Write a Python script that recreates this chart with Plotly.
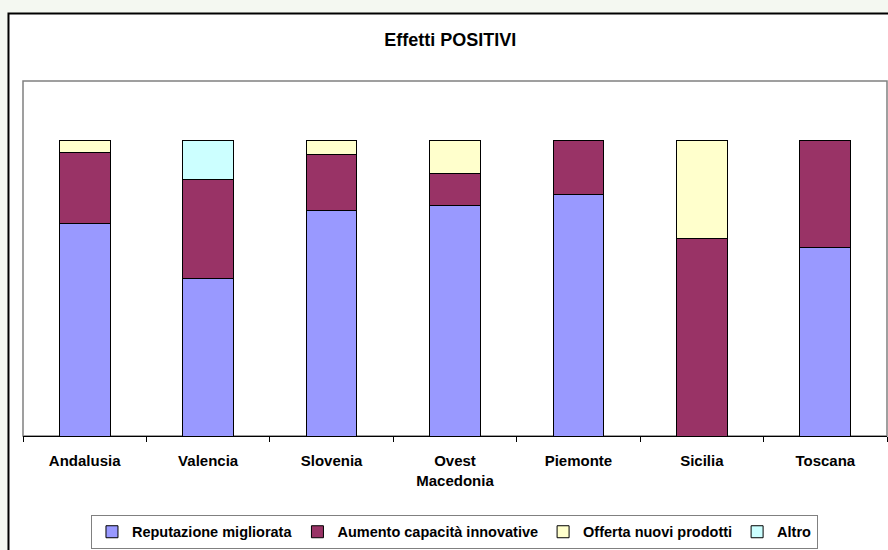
import plotly.graph_objects as go

regions = ['Andalusia', 'Valencia', 'Slovenia', 'Ovest<br>Macedonia',
           'Piemonte', 'Sicilia', 'Toscana']

reputazione = [72.0, 53.3, 76.2, 77.8, 81.8, 0.0, 63.6]
innovative = [24.0, 33.4, 19.0, 11.1, 18.2, 66.7, 36.4]
nuovi_prodotti = [4.0, 0.0, 4.8, 11.1, 0.0, 33.3, 0.0]
altro = [0.0, 13.3, 0.0, 0.0, 0.0, 0.0, 0.0]

series = [
    ('Reputazione migliorata', reputazione, '#9999FF'),
    ('Aumento capacità innovative', innovative, '#993366'),
    ('Offerta nuovi prodotti', nuovi_prodotti, '#FFFFCC'),
    ('Altro', altro, '#CCFFFF'),
]

font_family = 'Liberation Sans, Arial, sans-serif'

fig = go.Figure()
for name, vals, color in series:
    fig.add_trace(go.Bar(x=regions, y=vals, name=name,
                         marker={'color': color, 'line': {'color': 'black', 'width': 1}},
                         width=0.41))

fig.update_layout(
    barmode='stack',
    width=888, height=550,
    margin={'l': 23, 'r': 1, 't': 81, 'b': 110},
    paper_bgcolor='#f4f8f1',
    plot_bgcolor='white',
    title={'text': 'Effetti POSITIVI', 'x': 0.507, 'xanchor': 'center',
           'y': 0.927, 'yanchor': 'middle',
           'font': {'family': font_family, 'size': 18, 'color': 'black', 'weight': 'bold'}},
    showlegend=True,
    legend={'orientation': 'h', 'x': 0.4994, 'xanchor': 'center',
            'y': -0.222, 'yanchor': 'top',
            'bordercolor': '#808080', 'borderwidth': 1, 'bgcolor': 'white',
            'font': {'family': font_family, 'size': 14.5, 'color': 'black', 'weight': 'bold'},
            'traceorder': 'normal', 'itemwidth': 30},
    xaxis={'showline': True, 'linecolor': 'black', 'linewidth': 1,
           'ticks': 'outside', 'tickson': 'boundaries', 'ticklen': 5,
           'tickcolor': 'black', 'showgrid': False, 'ticklabelstandoff': 11,
           'tickfont': {'family': font_family, 'size': 15, 'color': 'black', 'weight': 'bold'}},
    yaxis={'range': [0, 120], 'visible': False, 'showgrid': False},
)

# outer chart frame (white area with black border)
fig.add_shape(type='rect', xref='paper', yref='paper',
              x0=-0.0168, x1=1.05, y0=-0.35, y1=1.19,
              line={'color': 'black', 'width': 2}, fillcolor='white', layer='below')
# plot area border
fig.add_shape(type='rect', xref='paper', yref='paper',
              x0=0, x1=1, y0=0, y1=1,
              line={'color': '#808080', 'width': 1.5}, layer='below')

fig.write_html('out.html', config={'displayModeBar': False},
               post_script="document.body.style.margin = '0';")
